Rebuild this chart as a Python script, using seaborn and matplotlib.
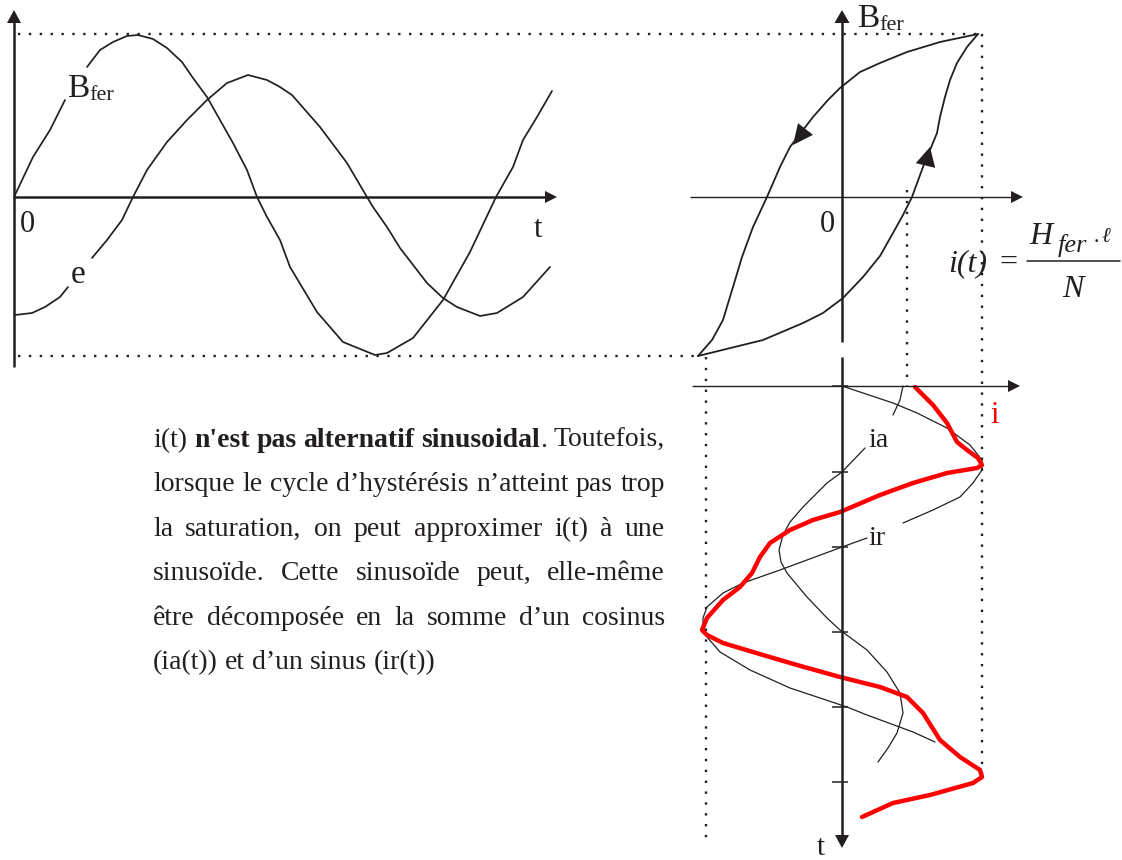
import numpy as np
import pandas as pd
import matplotlib
matplotlib.use("Agg")
import matplotlib.pyplot as plt
from matplotlib.patches import Polygon
import seaborn as sns

sns.set_theme(style="white")
SERIF = ['Liberation Serif', 'DejaVu Serif']
plt.rcParams['font.family'] = SERIF

INK = "#231f20"
RED = "#ff0000"

# ---------------- time plot: B_fer(t) and e(t) ----------------
bfer_t_a = [0, 19, 36, 51]
bfer_v_a = [0, 40, 67, 97]
bfer_t_b = [73, 86, 99, 113, 124, 139, 153, 168, 179, 193, 206, 219, 233, 243, 253,
            266, 276, 303, 329, 361, 373, 399, 429, 456, 482, 499, 509, 523, 538]
bfer_v_b = [130, 147, 155, 161, 162, 158, 149, 135, 119, 100, 77, 54, 27, 0, -20,
            -43, -70, -115, -145, -158, -156, -141, -103, -55, 0, 30, 57, 80, 106]

e_t_a = [1, 18, 31, 46, 54]
e_v_a = [-118, -116, -110, -100, -90]
e_t_b = [78, 93, 108, 119, 133, 153, 173, 193, 213, 234, 253, 266, 278, 306, 333,
         353, 359, 373, 386, 413, 429, 443, 466, 483, 509, 536]
e_v_b = [-61, -43, -23, 0, 27, 55, 77, 97, 114, 122, 117, 110, 102, 70, 34,
         0, -10, -30, -51, -86, -101, -110, -119, -116, -100, -70]

# ---------------- hysteresis cycle B_fer(H_fer) ----------------
desc_h = [136, 98, 65, 38, 18, -2, -14, -29, -39, -52, -62, -75, -89, -100, -109, -119, -130, -144]
desc_b = [163, 155, 145, 134, 125, 109, 97, 80, 67, 50, 30, 0, -30, -60, -90, -123, -143, -159]
asc_h = [-144, -79, -39, -19, 1, 21, 38, 51, 61, 70, 81, 88, 95, 98, 103, 108, 115, 125, 136]
asc_b = [-159, -143, -126, -116, -101, -80, -59, -36, -18, 0, 30, 47, 64, 80, 100, 117, 134, 150, 163]

# ---------------- current versus time (time downward) ----------------
ir_i_a = [0, 51, 75, 105, 128, 140, 140, 131, 118, 91, 61]
ir_t_a = [0, 17, 27, 42, 59, 74, 84, 97, 111, 124, 137]
ir_i_b = [25, 0, -35, -62, -99, -119, -135, -139, -139, -135, -122, -92, -52, 5, 25, 71, 93]
ir_t_b = [152, 161, 174, 184, 197, 207, 221, 232, 239, 251, 266, 284, 302, 321, 329, 346, 356]

ia_i_a = [61, 58, 51]
ia_t_a = [0, 14, 29]
ia_i_b = [23, 0, -15, -39, -52, -59, -63, -61, -55, -45, -35, -15, -2, 25, 45, 58, 61, 55, 46, 36]
ia_t_b = [62, 86, 97, 121, 136, 149, 164, 176, 187, 199, 211, 232, 244, 264, 286, 307, 327, 347, 362, 376]

i_i = [73, 91, 105, 115, 125, 136, 140, 135, 105, 71, 38, -2, -29, -52, -72, -82, -90, -102,
       -119, -135, -140, -135, -119, -79, -45, -2, 38, 65, 81, 98, 118, 138, 140, 131, 88, 51, 20]
i_t = [1, 19, 37, 56, 64, 72, 79, 82, 87, 97, 109, 126, 134, 144, 157, 171, 187, 201,
       214, 232, 244, 249, 257, 269, 279, 291, 301, 311, 327, 354, 371, 384, 391, 397, 409, 417, 431]

t_ticks = [0, 86, 161, 246, 321, 396]

text_runs_first = [("i(t) ", "normal"), ("n'est pas alternatif sinusoidal", "bold"),
                   (". Toutefois,", "normal")]
text_lines = [
    "lorsque le cycle d\u2019hyst\u00e9r\u00e9sis n\u2019atteint pas trop",
    "la saturation, on peut approximer i(t) \u00e0 une",
    "sinuso\u00efde. Cette sinuso\u00efde peut, elle-m\u00eame",
    "\u00eatre d\u00e9compos\u00e9e en la somme d\u2019un cosinus",
    "(ia(t)) et d\u2019un sinus (ir(t))",
]

W, H = 1122, 860
fig = plt.figure(figsize=(W / 100, H / 100), dpi=100)
fig.patch.set_facecolor("white")


def overlay():
    ax = fig.add_axes([0, 0, 1, 1])
    ax.axis("off")
    ax.patch.set_alpha(0)
    return ax


def pieces(*parts):
    rows = []
    for k, (xs, ys) in enumerate(parts):
        rows += [(k, x, y) for x, y in zip(xs, ys)]
    return pd.DataFrame(rows, columns=["piece", "x", "y"])


def curve(ax, df, color=INK, lw=1.25):
    sns.lineplot(data=df, x="x", y="y", units="piece", estimator=None, sort=False,
                 color=color, linewidth=lw, ax=ax, legend=False)


def head(ax, tip, base, width, color=INK):
    tip = np.asarray(tip, float)
    base = np.asarray(base, float)
    d = tip - base
    n = np.array([-d[1], d[0]]) / np.hypot(*d) * width / 2
    ax.add_patch(Polygon([tip, base + n, base - n], closed=True,
                         facecolor=color, edgecolor="none", zorder=5))


def arrow_axis(ax, start, tip, lw, hlen, hwid):
    start = np.asarray(start, float)
    tip = np.asarray(tip, float)
    d = (tip - start) / np.hypot(*(tip - start))
    base = tip - d * hlen
    end = base + d * 2
    ax.plot([start[0], end[0]], [start[1], end[1]], color=INK, lw=lw,
            solid_capstyle="butt")
    head(ax, tip, base, hwid)


DOTS = dict(color=INK, lw=1.7, linestyle=(0, (1, 3.6)), dash_capstyle="butt")

# ---- panel A: origin of the time plot ----
axA = overlay()
curve(axA, pieces((bfer_t_a, bfer_v_a), (bfer_t_b, bfer_v_b)))
curve(axA, pieces((e_t_a, e_v_a), (e_t_b, e_v_b)))
arrow_axis(axA, (0, -170), (0, 187), 1.8, 13, 14)
arrow_axis(axA, (0, 0), (543, 0), 1.8, 12, 12)
axA.set_xlim(-14, W - 14)
axA.set_ylim(197 - H, 197)

# ---- panel B: hysteresis cycle (shares its H origin with the current plot) ----
axB = overlay()
curve(axB, pieces((desc_h, desc_b), (asc_h, asc_b)), lw=1.3)
head(axB, (-49, 52), (-36.5, 68), 19)
head(axB, (88, 50), (83.5, 31.5), 20)
arrow_axis(axB, (0, -145), (0, 187), 1.8, 13, 15)
arrow_axis(axB, (-152, 0), (181, 0), 1.0, 12, 12)
b_top, b_bot = max(asc_b), min(asc_b)
axB.plot([-824, max(i_i)], [b_top, b_top], **DOTS)
axB.plot([-824, -142], [b_bot, b_bot], **DOTS)
axB.plot([max(i_i), max(i_i)], [b_top, -581], **DOTS)
axB.plot([65, 65], [7, -189], **DOTS)
axB.plot([-136, -136], [b_bot - 1, -643], **DOTS)
axB.set_xlim(-842, W - 842)
axB.set_ylim(197 - H, 197)

# ---- panel C: current components, time pointing down ----
axC = overlay()
curve(axC, pieces((ir_i_a, ir_t_a), (ir_i_b, ir_t_b)), lw=0.9)
curve(axC, pieces((ia_i_a, ia_t_a), (ia_i_b, ia_t_b)), lw=0.9)
curve(axC, pieces((i_i, i_t)), color=RED, lw=3.2)
arrow_axis(axC, (-150, 0), (178, 0), 1.0, 12, 12)
arrow_axis(axC, (0, -29), (0, 462), 1.8, 13, 14)
axC.hlines(t_ticks, -10, 6, color=INK, lw=1.1)
axC.set_xlim(-842, W - 842)
axC.set_ylim(H - 386, -386)

# ---- labels and text (pixel canvas) ----
ax = overlay()
ax.set_xlim(0, W)
ax.set_ylim(H, 0)
lab = dict(color=INK, va="baseline")
ax.text(67, 97, "B", fontsize=24, ha="left", **lab)
ax.text(89, 100, "fer", fontsize=16, ha="left", **lab)
ax.text(857, 27, "B", fontsize=24, ha="left", **lab)
ax.text(879, 30, "fer", fontsize=16, ha="left", **lab)
ax.text(27, 232, "0", fontsize=22, ha="center", **lab)
ax.text(538, 237, "t", fontsize=22, ha="center", **lab)
ax.text(78, 283, "e", fontsize=24, ha="center", **lab)
ax.text(827, 232, "0", fontsize=22, ha="center", **lab)
ax.text(995, 423, "i", fontsize=22, ha="center", color=RED, va="baseline")
ax.text(868, 447, "ia", fontsize=20, ha="left", **lab)
ax.text(868, 545, "ir", fontsize=20, ha="left", **lab)
ax.text(821, 855, "t", fontsize=21, ha="center", **lab)

# i(t) = H_fer . l / N
ax.text(948, 271, "i(t)", fontsize=23, style="italic", ha="left", **lab)
ax.text(1008, 271, "=", fontsize=23, ha="center", **lab)
ax.plot([1027, 1120], [261, 261], color=INK, lw=1.1)
ax.text(1029, 244, "H", fontsize=23, style="italic", ha="left", **lab)
ax.text(1058, 252, "fer", fontsize=19, style="italic", ha="left", **lab)
ax.text(1093, 248, "\u00b7", fontsize=16, ha="left", **lab)
ax.text(1102, 242, "\u2113", fontsize=15, style="italic", ha="left", **lab)
ax.text(1073, 297, "N", fontsize=23, style="italic", ha="center", **lab)

# justified paragraph
renderer = fig.canvas.get_renderer()


def width_of(s, size, weight="normal"):
    t = ax.text(0, 0, s, fontsize=size, fontweight=weight)
    w = t.get_window_extent(renderer).width
    t.remove()
    return w


x_left, x_right = 153, 665
fs = 18 * 509 / width_of(text_lines[0], 18)


def words_from_runs(runs):
    words = [[]]
    for txt, wt in runs:
        for k, part in enumerate(txt.split(" ")):
            if k > 0:
                words.append([])
            if part:
                words[-1].append((part, wt))
    return [w for w in words if w]


all_lines = [words_from_runs(text_runs_first)] + \
    [words_from_runs([(s, "normal")]) for s in text_lines]
space = width_of("a a", fs) - width_of("aa", fs)
baseline0, leading = 447, 44.4
for li, words in enumerate(all_lines):
    widths = [[width_of(p, fs, w) for p, w in word] for word in words]
    total = sum(sum(ws) for ws in widths)
    last = li == len(all_lines) - 1
    gap = space if last else (x_right - x_left - total) / (len(words) - 1)
    x = x_left
    y = baseline0 + li * leading
    for word, ws in zip(words, widths):
        for (p, wt), wd in zip(word, ws):
            ax.text(x, y, p, fontsize=fs, fontweight=wt, color=INK,
                    ha="left", va="baseline")
            x += wd
        x += gap

fig.savefig("out.png", dpi=100, facecolor="white")
